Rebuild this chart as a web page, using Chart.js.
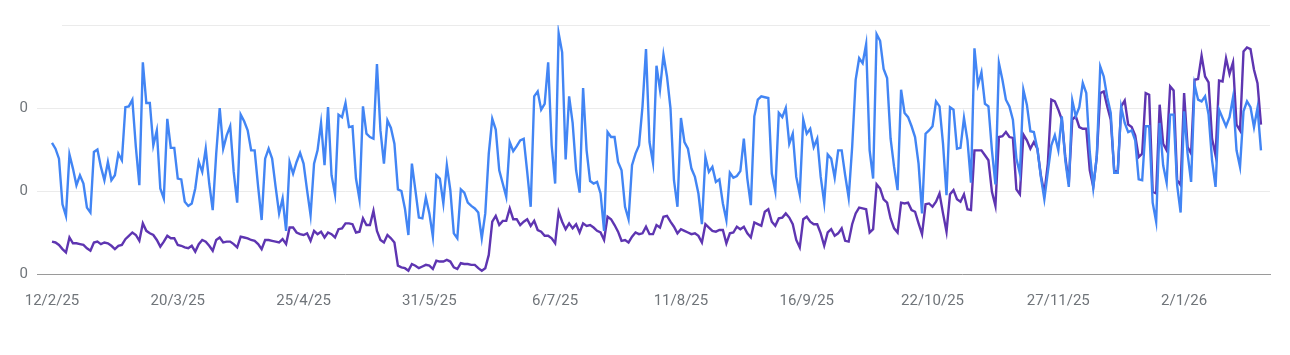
<!DOCTYPE html>
<html>
<head>
<meta charset="utf-8">
<script src="https://cdn.jsdelivr.net/npm/chart.js@4.4.1/dist/chart.umd.min.js"></script>
<style>
html,body{margin:0;padding:0;background:#fff;}
#wrap{width:1290px;height:355px;position:relative;}
</style>
</head>
<body>
<div id="wrap"><canvas id="c" width="1290" height="355"></canvas></div>
<script>
// Daily series from 12/2/25 (day 0) to 24/1/26 (day 346)
const startDate = '2025-02-12';
const tickDays = [0, 36, 72, 108, 144, 180, 216, 252, 288, 324];
const tickLabels = ['12/2/25','20/3/25','25/4/25','31/5/25','6/7/25','11/8/25','16/9/25','22/10/25','27/11/25','2/1/26'];
const yTicks = [0, 100, 200, 300];
const yTickLabels = ['0', '0', '0', ''];

const blueSeries = [
158,151,139,84,70,144,127,107,119,109,80,74,147,150,129,113,135,113,119,145,137,201,202,210,153,107,255,206,206,155,173,103,91,187,152,152,115,114,87,82,85,103,135,
123,151,109,77,145,200,151,167,178,123,86,192,184,173,149,149,105,65,139,151,139,105,73,91,52,135,121,135,146,133,101,71,133,149,182,131,201,119,96,192,189,206,177,178,
115,90,202,169,165,163,253,173,133,185,176,157,102,100,79,47,133,101,68,67,92,73,45,119,115,85,131,101,49,43,102,98,86,82,79,74,43,73,145,187,174,125,109,93,
159,148,154,161,163,123,81,214,220,198,205,255,155,109,290,267,138,214,182,125,98,224,149,112,109,111,97,52,171,165,165,135,125,81,66,131,145,155,202,271,159,134,251,222,
264,238,200,113,81,188,159,151,127,117,97,60,141,123,129,111,114,85,65,122,116,118,124,163,115,83,190,210,214,213,212,121,100,194,189,200,157,169,117,96,186,169,175,
153,163,117,86,144,139,116,149,149,119,92,153,234,260,254,277,149,115,289,281,247,236,163,129,101,222,194,189,178,165,133,73,169,173,178,208,202,157,95,201,198,151,152,188,
161,110,272,228,243,205,202,149,108,254,234,210,202,186,139,121,222,204,172,171,151,117,90,123,155,167,149,190,137,105,209,190,201,230,218,147,104,141,250,238,213,194,122,122,
201,182,171,173,161,114,113,178,178,86,63,182,131,110,192,192,107,74,196,145,111,228,210,208,214,192,137,105,198,188,178,189,213,149,129,196,208,201,177,200,149
];

const purpleSeries = [
39,38,35,30,26,44,37,37,36,35,31,28,38,39,36,38,37,34,30,34,35,42,46,50,47,40,61,52,49,47,41,33,39,46,43,43,35,34,32,31,34,27,36,
41,39,34,28,41,44,38,39,39,36,32,45,44,43,41,40,36,30,41,41,40,39,38,42,36,56,56,50,48,47,49,40,52,48,51,44,50,48,44,54,55,61,61,60,
50,51,67,59,59,76,52,41,38,47,43,38,10,8,7,4,12,10,7,9,11,10,6,16,15,15,17,15,8,6,13,12,12,11,11,7,4,7,23,63,70,59,64,64,
79,66,66,59,63,66,58,64,53,51,46,46,43,37,75,63,54,61,55,60,50,61,58,59,56,52,50,41,69,66,59,51,40,41,38,45,50,48,49,57,48,48,59,56,
69,70,63,57,49,54,52,50,48,49,46,38,60,56,52,51,53,53,37,49,50,57,54,57,49,44,62,60,58,75,78,63,58,67,68,73,68,60,41,32,66,69,63,
60,60,49,34,50,54,46,49,55,40,39,60,73,80,79,78,50,54,108,103,90,86,67,55,50,86,85,86,77,75,61,48,84,85,81,87,97,73,51,96,101,90,87,96,
78,77,149,149,149,143,137,99,82,165,166,171,165,164,102,96,168,161,151,159,151,119,97,133,210,208,198,186,141,109,186,190,177,175,175,125,105,141,218,220,202,186,125,123,
202,209,180,177,167,141,145,218,216,99,97,204,157,149,226,221,113,107,218,153,145,234,235,263,238,231,163,143,233,232,260,241,255,180,173,268,273,271,246,230,180
];

// category labels: one date per day
const categories = blueSeries.map((_, i) => {
  const d = new Date(startDate + 'T00:00:00Z');
  d.setUTCDate(d.getUTCDate() + i);
  return d.getUTCDate() + '/' + (d.getUTCMonth() + 1) + '/' + String(d.getUTCFullYear()).slice(2);
});

const toPoints = arr => arr.map((v, i) => ({x: i, y: v}));

const textColor = '#70757a';
const fontFamily = 'Roboto, "Noto Sans", sans-serif';
const gridColor = '#ebebeb';

// top gridline in the reference begins a little to the right of the others
const topGridPlugin = {
  id: 'topGrid',
  beforeDatasetsDraw(chart) {
    const y = Math.round(chart.scales.y.getPixelForValue(yTicks[yTicks.length - 1])) + 0.5;
    const ctx = chart.ctx;
    ctx.save();
    ctx.strokeStyle = gridColor;
    ctx.lineWidth = 1;
    ctx.beginPath();
    ctx.moveTo(chart.chartArea.left + 25, y);
    ctx.lineTo(chart.chartArea.right, y);
    ctx.stroke();
    ctx.restore();
  }
};

new Chart(document.getElementById('c'), {
  type: 'line',
  data: {
    labels: categories,
    datasets: [
      {
        label: 'Series A',
        data: toPoints(blueSeries),
        borderColor: '#4285f4',
        borderWidth: 2.4,
        pointRadius: 0,
        tension: 0,
        fill: false
      },
      {
        label: 'Series B',
        data: toPoints(purpleSeries),
        borderColor: '#5e35b1',
        borderWidth: 2.4,
        pointRadius: 0,
        tension: 0,
        fill: false
      }
    ]
  },
  plugins: [topGridPlugin],
  options: {
    responsive: false,
    animation: false,
    events: [],
    layout: { padding: { top: 25, right: 20, left: 0, bottom: 0 } },
    plugins: { legend: { display: false }, tooltip: { enabled: false } },
    scales: {
      x: {
        type: 'linear',
        min: -4.29,
        max: 348.58,
        grid: { display: false, drawTicks: false },
        border: { display: true, color: '#9a9a9a', width: 1 },
        afterBuildTicks: s => { s.ticks = tickDays.map(v => ({ value: v })); },
        afterFit: s => { s.height = 81; },
        ticks: {
          autoSkip: false,
          maxRotation: 0,
          padding: 18,
          color: textColor,
          font: { family: fontFamily, size: 15 },
          callback: (v) => { const k = tickDays.indexOf(v); return k >= 0 ? tickLabels[k] : ''; }
        }
      },
      y: {
        min: 0,
        max: 300,
        afterBuildTicks: s => { s.ticks = yTicks.map(v => ({ value: v })); },
        afterFit: s => { s.width = 37; },
        grid: {
          color: ctx => (ctx.tick && ctx.tick.value === yTicks[yTicks.length - 1]) ? 'rgba(0,0,0,0)' : gridColor,
          lineWidth: 1,
          drawTicks: false
        },
        border: { display: false },
        ticks: {
          padding: 9,
          color: textColor,
          font: { family: fontFamily, size: 15 },
          callback: (v) => { const k = yTicks.indexOf(v); return k >= 0 ? yTickLabels[k] : ''; }
        }
      }
    }
  }
});
</script>
</body>
</html>
